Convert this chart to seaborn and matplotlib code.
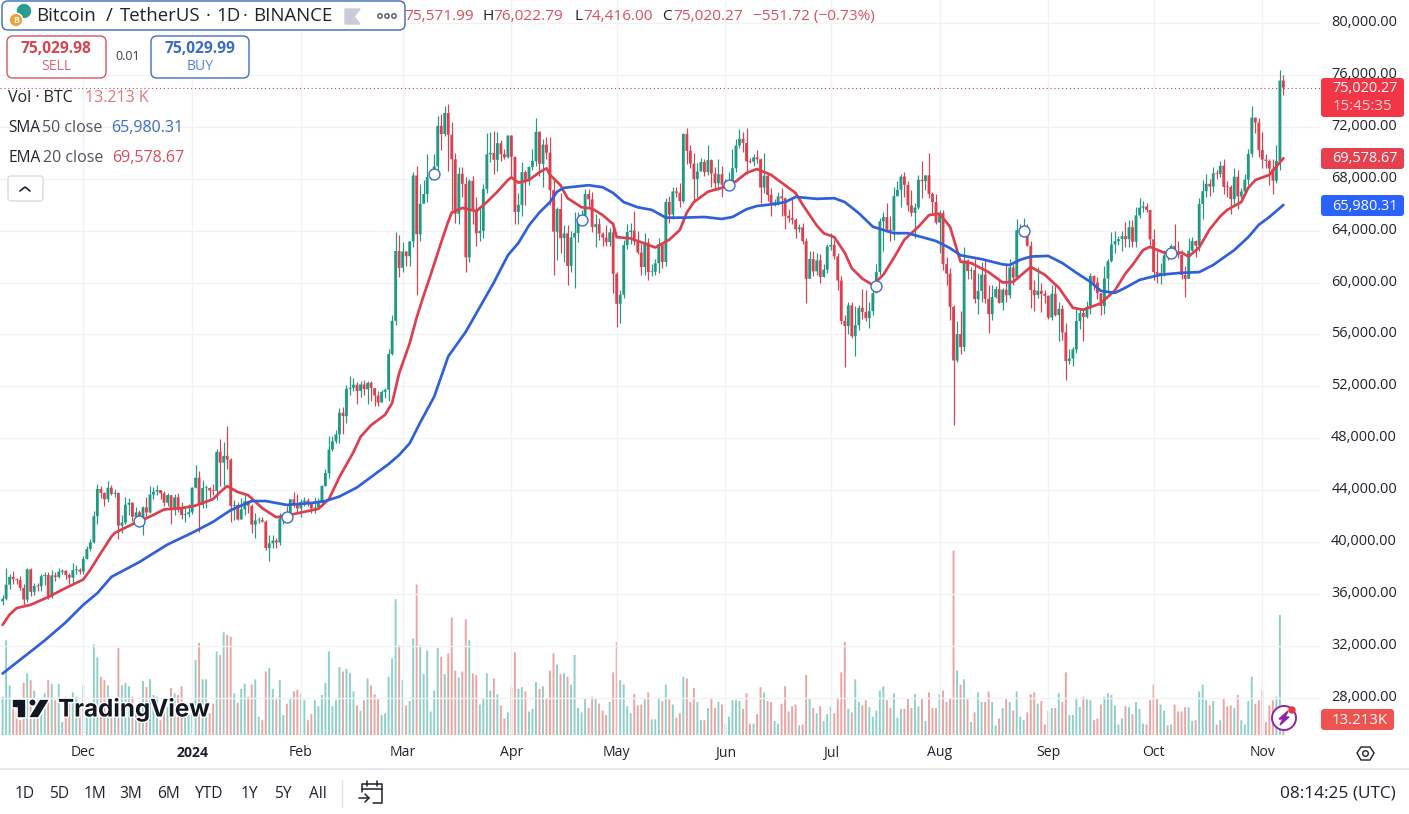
import numpy as np
import pandas as pd
import matplotlib
matplotlib.use("Agg")
import matplotlib.pyplot as plt
import matplotlib.dates as mdates
import matplotlib.patheffects as pe
from matplotlib.patches import FancyBboxPatch, Circle, Polygon
import seaborn as sns

# ── daily candles, thousands of USDT ────────────────────────────────────────
first_open = 35.42
closes_nov23 = [35.62, 36.70, 37.30, 37.13, 37.06, 36.46, 35.55, 37.88, 36.15, 36.60, 36.57, 37.36, 37.45, 35.74, 37.42, 37.29, 37.70, 37.78, 37.45, 37.24, 37.82, 37.85, 37.72]
highs_nov23 = [35.9, 37.97, 37.53, 37.75, 37.23, 37.4, 36.75, 37.98, 37.98, 36.85, 36.85, 37.5, 37.65, 37.65, 37.85, 37.65, 38.0, 37.9, 37.8, 37.6, 38.4, 38.2, 38.0]
lows_nov23 = [35.1, 35.55, 36.35, 36.75, 36.75, 36.3, 35.1, 35.35, 35.85, 35.9, 36.2, 36.2, 36.7, 35.6, 35.65, 37.0, 37.2, 37.55, 37.15, 36.75, 36.7, 37.5, 37.5]

closes_dec = [38.68, 39.46, 39.97, 41.98, 44.08, 43.77, 43.29, 44.17, 43.71, 43.79, 41.25, 41.49, 42.87, 43.02, 41.94, 42.28, 41.37, 42.66, 42.27, 43.65, 43.87, 44.00, 43.74, 43.02, 43.61, 42.52, 43.44, 42.58, 42.07, 42.14, 42.28]
highs_dec = [38.95, 39.7, 40.2, 42.4, 44.5, 44.3, 43.85, 44.7, 44.4, 44.05, 43.8, 42.1, 43.45, 43.4, 43.1, 42.7, 42.45, 42.75, 43.5, 44.3, 44.2, 44.4, 44.0, 43.95, 43.8, 43.6, 43.7, 43.8, 43.1, 42.6, 42.9]
lows_dec = [37.5, 38.65, 39.3, 39.95, 41.4, 43.35, 42.8, 43.1, 43.6, 43.5, 40.2, 40.7, 41.4, 42.1, 41.6, 41.7, 41.3, 40.5, 41.8, 42.2, 43.3, 43.6, 43.3, 42.75, 42.8, 41.4, 42.1, 42.3, 41.75, 41.5, 41.9]

closes_jan = [44.18, 44.95, 42.85, 44.15, 44.15, 43.97, 43.93, 46.95, 46.11, 46.63, 46.34, 42.78, 42.85, 41.73, 42.51, 43.14, 42.78, 41.33, 41.66, 41.68, 41.56, 39.53, 39.89, 40.10, 39.96, 41.82, 42.12, 42.04, 43.29, 42.95, 42.58]
highs_jan = [44.2, 45.9, 45.5, 44.75, 44.4, 44.2, 44.5, 47.2, 47.9, 47.7, 48.95, 46.5, 43.25, 43.1, 43.4, 43.6, 43.2, 42.9, 42.2, 41.9, 41.9, 41.7, 40.5, 40.55, 40.3, 42.2, 42.2, 42.8, 43.3, 43.85, 43.7]
lows_jan = [42.15, 44.15, 40.75, 42.6, 42.6, 43.4, 43.6, 43.2, 44.3, 44.3, 45.6, 41.5, 41.7, 41.7, 41.8, 42.05, 42.2, 40.7, 40.3, 41.45, 41.5, 39.4, 38.55, 39.5, 39.5, 39.8, 41.4, 41.6, 41.8, 42.7, 42.3]

closes_feb = [43.08, 43.19, 42.99, 42.58, 42.66, 43.08, 44.32, 45.30, 47.13, 47.75, 48.29, 49.96, 49.70, 51.80, 51.88, 52.12, 51.64, 52.14, 51.77, 52.26, 51.85, 51.29, 50.74, 51.57, 51.73, 54.48, 57.04, 62.43, 61.13]
highs_feb = [43.3, 43.45, 43.4, 43.1, 43.5, 43.4, 44.4, 45.6, 48.2, 48.2, 48.6, 50.3, 50.4, 52.1, 52.8, 52.6, 52.3, 52.4, 52.5, 52.4, 52.4, 51.9, 51.6, 51.7, 51.9, 54.9, 57.5, 63.9, 63.7]
lows_feb = [41.9, 42.8, 42.8, 42.25, 42.2, 42.6, 42.8, 44.3, 44.9, 47.0, 47.6, 47.6, 48.3, 49.2, 51.3, 51.6, 50.6, 51.2, 51.3, 50.6, 50.9, 50.5, 50.5, 50.9, 51.1, 50.9, 54.4, 56.7, 60.4]

closes_mar = [62.39, 62.03, 63.17, 68.25, 63.72, 66.07, 66.82, 68.12, 68.31, 68.96, 72.08, 71.45, 73.07, 71.39, 69.50, 65.30, 68.39, 67.61, 61.94, 67.84, 65.50, 63.80, 63.99, 67.21, 69.88, 69.99, 69.46, 70.74, 69.89, 69.65, 71.33]
highs_mar = [63.1, 62.4, 63.2, 68.5, 69.0, 67.6, 67.9, 69.9, 68.7, 69.9, 72.8, 73.0, 73.6, 73.8, 72.4, 70.0, 68.9, 68.9, 68.1, 68.0, 68.2, 66.6, 65.9, 67.6, 71.5, 71.6, 71.7, 71.6, 71.0, 70.3, 71.4]
lows_mar = [60.8, 61.3, 61.3, 62.7, 59.0, 63.2, 66.2, 66.2, 67.9, 68.1, 68.5, 70.2, 71.3, 68.6, 65.6, 64.6, 64.5, 66.6, 60.8, 61.6, 64.5, 62.8, 63.2, 63.4, 66.9, 69.3, 68.4, 68.6, 69.4, 69.5, 69.6]

closes_apr = [69.70, 65.45, 65.98, 68.51, 67.84, 68.90, 69.36, 71.62, 69.15, 70.63, 70.01, 67.12, 63.92, 65.66, 63.42, 63.79, 61.28, 63.47, 63.82, 64.94, 64.94, 66.82, 66.41, 64.29, 64.50, 63.77, 63.46, 63.12, 63.87, 60.67]
highs_apr = [71.4, 69.7, 66.9, 69.3, 68.7, 69.0, 70.3, 72.7, 71.7, 71.1, 71.2, 71.2, 67.9, 65.8, 66.9, 64.4, 64.4, 64.0, 65.4, 65.4, 65.6, 67.2, 67.2, 67.0, 65.3, 65.0, 63.9, 64.4, 64.2, 64.7]
lows_apr = [68.1, 64.5, 64.5, 65.1, 66.0, 67.5, 68.7, 69.0, 68.2, 67.4, 69.5, 66.0, 60.6, 61.7, 62.3, 61.6, 59.8, 60.8, 59.6, 63.1, 64.5, 64.5, 65.8, 63.9, 62.7, 63.3, 62.8, 62.8, 62.8, 59.2]

closes_may = [58.36, 59.06, 62.88, 63.89, 64.01, 63.17, 62.31, 61.19, 63.07, 60.80, 60.83, 61.48, 62.94, 61.58, 66.21, 65.24, 67.02, 66.92, 66.27, 71.45, 70.15, 69.17, 67.97, 68.55, 69.29, 68.51, 69.44, 68.40, 67.65, 68.35, 67.54]
highs_may = [60.8, 59.4, 63.3, 64.5, 64.6, 65.5, 64.0, 63.0, 63.8, 63.4, 61.4, 61.8, 63.4, 63.1, 66.5, 66.7, 67.4, 67.4, 67.7, 71.5, 71.9, 70.6, 70.0, 69.2, 69.6, 69.5, 70.6, 69.5, 68.9, 69.5, 69.0]
lows_may = [56.6, 56.9, 58.8, 62.6, 63.0, 62.9, 62.2, 60.6, 60.6, 60.2, 60.5, 60.6, 60.7, 61.1, 61.3, 64.6, 64.9, 66.6, 65.8, 66.1, 69.1, 68.8, 66.3, 66.6, 68.9, 68.2, 68.3, 67.4, 67.1, 67.1, 66.6]

closes_jun = [67.77, 67.77, 68.81, 70.57, 71.08, 70.76, 69.34, 69.31, 69.65, 69.50, 67.32, 68.24, 66.75, 66.01, 66.19, 66.64, 66.49, 65.14, 64.96, 64.83, 64.10, 64.25, 63.18, 60.28, 61.81, 60.86, 61.71, 60.43, 60.99, 62.77]
highs_jun = [68.0, 68.5, 70.3, 71.1, 71.8, 71.6, 71.9, 69.6, 69.9, 70.2, 69.6, 70.0, 68.4, 67.3, 66.4, 67.0, 67.3, 66.6, 65.7, 66.5, 65.0, 64.5, 64.6, 63.4, 62.4, 62.4, 62.3, 62.2, 61.4, 63.0]
lows_jun = [67.4, 67.4, 67.6, 68.5, 70.4, 70.1, 68.4, 69.2, 69.0, 69.2, 66.1, 66.9, 66.3, 65.1, 65.9, 66.0, 65.1, 64.1, 64.7, 64.5, 63.4, 63.9, 63.0, 58.4, 60.6, 60.5, 60.6, 60.0, 60.4, 60.7]

closes_jul = [62.90, 62.02, 60.15, 57.04, 56.64, 58.23, 55.86, 56.71, 58.05, 57.72, 57.25, 57.79, 59.18, 60.80, 64.72, 65.04, 64.09, 63.99, 66.66, 67.14, 68.17, 67.53, 65.94, 65.37, 65.78, 67.91, 67.81, 68.26, 66.82, 66.20, 64.62]
highs_jul = [63.8, 63.3, 62.3, 60.5, 57.5, 58.5, 58.5, 58.2, 58.3, 59.5, 59.4, 58.5, 59.8, 61.4, 65.0, 65.4, 66.1, 65.1, 67.4, 67.8, 68.4, 68.5, 67.8, 67.1, 66.1, 68.3, 69.4, 68.3, 70.0, 67.0, 66.8]
lows_jul = [62.5, 61.8, 59.4, 56.8, 53.5, 56.0, 55.7, 54.3, 56.3, 57.2, 57.0, 56.5, 57.5, 59.5, 60.6, 62.4, 63.9, 63.2, 63.3, 66.7, 65.8, 66.6, 65.5, 65.1, 63.4, 65.7, 66.5, 67.1, 66.5, 65.3, 64.5]

closes_aug = [65.36, 61.42, 60.68, 58.12, 53.99, 56.03, 55.03, 61.71, 60.88, 60.95, 58.72, 59.35, 60.61, 58.74, 57.56, 58.87, 59.49, 58.43, 59.44, 59.01, 61.16, 60.38, 64.04, 64.16, 64.22, 62.83, 59.42, 59.03, 59.36, 59.12, 58.97]
highs_aug = [65.6, 65.6, 62.0, 61.1, 58.3, 57.0, 57.8, 62.7, 61.8, 61.2, 61.8, 60.7, 61.6, 61.8, 59.8, 59.8, 59.7, 60.3, 59.6, 61.4, 61.8, 61.4, 64.9, 64.5, 65.0, 64.5, 63.2, 60.2, 61.2, 60.0, 59.4]
lows_aug = [62.3, 61.0, 59.8, 57.1, 49.0, 53.9, 54.5, 54.7, 60.3, 60.3, 58.4, 57.6, 58.5, 58.4, 56.1, 57.1, 58.8, 58.4, 57.9, 58.5, 58.8, 59.8, 60.3, 63.6, 63.6, 62.8, 58.0, 57.8, 58.8, 57.7, 58.4]

closes_sep = [57.30, 59.13, 57.49, 57.97, 56.16, 53.95, 54.14, 54.84, 57.02, 57.65, 57.34, 58.13, 60.50, 60.00, 59.18, 58.19, 60.31, 61.65, 62.94, 63.19, 63.35, 63.58, 63.34, 64.26, 63.14, 65.17, 65.77, 65.86, 65.60, 63.33]
highs_sep = [59.0, 59.8, 59.8, 58.5, 58.3, 56.9, 54.9, 55.0, 58.1, 58.0, 58.0, 58.6, 60.7, 60.6, 60.4, 59.2, 61.3, 61.8, 63.9, 64.0, 63.6, 64.0, 64.7, 64.8, 64.8, 65.8, 66.5, 66.3, 66.1, 65.6]
lows_sep = [57.2, 57.1, 57.4, 55.5, 55.6, 52.5, 53.7, 53.6, 54.6, 56.4, 55.5, 57.3, 57.6, 59.4, 58.7, 57.5, 57.6, 59.2, 61.6, 62.3, 62.9, 62.4, 62.7, 62.7, 62.7, 62.7, 65.0, 65.4, 65.4, 62.9]

closes_oct = [60.81, 60.65, 60.75, 62.09, 62.06, 62.82, 62.22, 62.13, 60.58, 60.28, 62.45, 63.19, 62.85, 66.05, 67.04, 67.61, 67.40, 68.42, 68.36, 69.00, 67.37, 67.36, 66.43, 68.16, 66.64, 67.01, 67.93, 69.91, 72.72, 72.34, 70.22]
highs_oct = [64.1, 62.4, 61.5, 62.5, 62.4, 63.0, 64.5, 63.2, 62.5, 61.3, 63.4, 63.5, 63.3, 66.5, 67.9, 68.4, 68.0, 68.9, 68.7, 69.4, 69.5, 67.8, 67.5, 68.8, 68.7, 67.3, 68.4, 70.3, 73.6, 72.7, 72.7]
lows_oct = [60.2, 60.0, 59.9, 60.5, 61.7, 61.9, 62.1, 61.9, 60.3, 58.9, 60.4, 62.4, 62.0, 62.4, 64.9, 66.6, 66.7, 67.0, 68.0, 68.1, 66.8, 66.6, 65.3, 65.9, 65.7, 66.5, 66.8, 67.5, 69.7, 71.5, 69.7]

closes_nov24 = [69.48, 69.37, 68.78, 67.85, 69.37, 75.57, 75.02]
highs_nov24 = [71.6, 69.9, 69.5, 69.5, 70.6, 76.4, 76.02]
lows_nov24 = [68.8, 68.8, 67.5, 66.8, 67.7, 68.7, 74.42]

# volume, thousands of BTC
vol_nov_to_mar = [44, 109, 57, 38, 28, 17, 60, 71, 63, 51, 40, 36, 48, 63, 59, 40, 59, 15, 44, 40, 49, 44, 32,
    57, 21, 32, 104, 89, 67, 63, 57, 36, 32, 100, 57, 60, 56, 44, 32, 25, 62, 55, 64, 46, 44, 17, 36, 32, 54, 48, 46, 56, 32, 25,
    28, 86, 106, 64, 64, 25, 36, 96, 92, 118, 115, 113, 48, 37, 53, 59, 44, 58, 64, 21, 17, 73, 77, 53, 41, 63, 23, 36, 43, 50, 52,
    47, 40, 17, 24, 40, 33, 46, 60, 96, 33, 40, 78, 73, 76, 71, 50, 34, 28, 40, 65, 57, 47, 41, 23, 25, 67, 88, 156, 103, 63, 34, 39,
    111, 173, 103, 70, 97, 27, 51, 100, 90, 70, 94, 135, 74, 66, 73, 133, 109]
vol_mar_to_aug = [71, 69, 35, 42, 71, 51, 65, 47, 34, 19, 26, 55, 95, 53, 55, 50, 27, 30, 61, 53, 56, 42, 74, 94, 81, 70, 71, 67, 58, 92,
    31, 26, 42, 31, 44, 42, 36, 28, 23, 38, 72, 107, 63, 58, 33, 25, 47, 34, 35, 41, 49, 18, 18, 43, 39, 58, 41, 35, 20, 25, 67, 65,
    38, 54, 38, 17, 17, 31, 43, 31, 38, 35, 12, 21, 40, 40, 39, 30, 48, 13, 13, 24, 55, 49, 39, 38, 16, 13, 36, 56, 27, 33, 35, 11,
    12, 69, 42, 31, 25, 33, 16, 24, 33, 25, 43, 72, 107, 30, 26, 64, 38, 34, 40, 32, 21, 28, 51, 56, 40, 31, 48, 20, 30, 30, 42, 31,
    47, 33, 42, 16, 49, 31, 31, 47]
vol_aug_to_nov = [51, 38, 42, 212, 74, 58, 64, 41, 15, 26, 49, 38, 38, 50, 38, 11, 19, 31, 42, 38, 28, 50, 21, 17, 26, 47, 49, 36, 39, 12,
    28, 31, 31, 48, 38, 72, 23, 23, 43, 32, 44, 41, 40, 17, 19, 35, 44, 48, 46, 34, 12, 19, 33, 32, 24, 38, 30, 13, 12, 40, 58, 42,
    35, 28, 11, 12, 35, 27, 27, 32, 32, 16, 17, 50, 58, 40, 34, 39, 12, 17, 42, 33, 34, 31, 46, 17, 12, 39, 67, 36, 40, 51, 15, 34,
    40, 44, 138, 13.213]

# moving averages at candle numbers
sma_idx = [0, 12, 18, 23, 27, 31, 39, 47, 54, 60, 65, 68, 71, 75, 81, 88, 92, 96, 101, 105, 110, 113, 116, 119, 123, 127, 132, 136, 140, 144, 147, 150, 153, 156, 158, 160, 167, 171, 174, 177, 181, 185, 189, 194, 200, 205, 208, 212, 215, 220, 223, 226, 232, 237, 240, 244, 248, 254, 258, 262, 266, 270, 273, 279, 285, 287, 290, 293, 298, 302, 306, 310, 313, 317, 320, 324, 330, 336, 341, 345, 351, 355, 358, 361, 365]
sma_val = [29.85, 32.4, 33.8, 35.15, 36.05, 37.3, 38.45, 39.8, 40.7, 41.55, 42.45, 42.8, 43.15, 43.15, 42.85, 43.0, 43.15, 43.5, 44.2, 45.0, 46.0, 46.7, 47.6, 49.2, 51.2, 54.3, 56.2, 58.1, 60.0, 62.1, 63.05, 64.4, 65.4, 66.2, 67.0, 67.3, 67.5, 67.35, 66.9, 66.2, 65.8, 65.6, 65.0, 65.0, 65.05, 64.9, 65.05, 65.65, 65.9, 66.05, 66.2, 66.6, 66.45, 66.5, 66.2, 65.35, 64.3, 63.8, 63.8, 63.5, 63.2, 62.65, 62.1, 61.8, 61.4, 61.35, 61.75, 62.0, 62.05, 61.5, 60.75, 60.05, 59.35, 59.2, 59.6, 60.2, 60.6, 60.75, 60.8, 61.35, 62.5, 63.5, 64.45, 65.05, 65.98]
ema_idx = [0, 2, 4, 8, 13, 18, 23, 25, 28, 31, 32, 38, 42, 46, 51, 55, 60, 62, 64, 67, 70, 74, 78, 83, 90, 93, 96, 100, 102, 105, 109, 111, 113, 116, 118, 120, 122, 125, 127, 128, 131, 135, 138, 141, 144, 145, 147, 150, 153, 155, 156, 159, 161, 165, 168, 171, 174, 175, 179, 182, 186, 190, 193, 195, 197, 201, 205, 209, 212, 215, 219, 222, 226, 228, 232, 234, 237, 240, 242, 245, 248, 251, 254, 257, 261, 264, 267, 270, 273, 276, 281, 285, 288, 293, 297, 301, 305, 308, 313, 317, 320, 322, 325, 327, 331, 336, 338, 341, 344, 347, 349, 353, 355, 357, 361, 365]
ema_val = [33.6, 34.4, 34.9, 35.15, 35.75, 36.45, 37.1, 37.85, 39.15, 40.4, 40.7, 41.5, 41.95, 42.5, 42.6, 42.8, 43.3, 43.85, 44.3, 43.85, 43.6, 42.6, 41.9, 42.15, 42.55, 43.3, 45.0, 46.93, 48.1, 49.0, 49.8, 50.7, 53.0, 55.3, 57.3, 59.0, 60.6, 63.1, 64.7, 65.4, 65.75, 65.5, 66.2, 67.0, 67.9, 68.1, 67.7, 67.9, 68.5, 68.8, 68.3, 67.5, 66.5, 65.8, 65.7, 65.2, 64.5, 63.5, 63.4, 63.1, 62.7, 63.3, 64.05, 65.4, 66.2, 67.0, 67.3, 67.8, 68.45, 68.75, 68.3, 67.7, 66.9, 66.0, 64.4, 63.8, 63.5, 62.3, 61.1, 60.3, 59.8, 60.6, 61.9, 63.3, 64.3, 65.2, 65.3, 64.3, 61.6, 61.5, 60.8, 60.0, 60.05, 61.2, 60.6, 59.6, 58.05, 57.9, 58.4, 59.4, 60.7, 61.35, 62.5, 62.75, 62.3, 62.3, 62.0, 62.7, 64.1, 65.1, 65.6, 66.2, 67.3, 67.9, 68.3, 69.58]
assert len(sma_idx) == len(sma_val), (len(sma_idx), len(sma_val))
assert len(ema_idx) == len(ema_val), (len(ema_idx), len(ema_val))

# event markers on the candles
event_idx = [39, 81, 123, 165, 207, 249, 291, 333]
event_val = [41.65, 41.95, 68.40, 64.80, 67.55, 59.75, 64.00, 62.25]

price_ticks = [28, 32, 36, 40, 44, 48, 52, 56, 60, 64, 68, 72, 76, 80]
month_labels = ["Dec", "2024", "Feb", "Mar", "Apr", "May", "Jun", "Jul", "Aug", "Sep", "Oct", "Nov"]
month_starts = ["2023-12-01", "2024-01-01", "2024-02-01", "2024-03-01", "2024-04-01", "2024-05-01", "2024-06-01", "2024-07-01", "2024-08-01", "2024-09-01", "2024-10-01", "2024-11-01"]
range_labels = ["1D", "5D", "1M", "3M", "6M", "YTD", "1Y", "5Y", "All"]

closes = closes_nov23 + closes_dec + closes_jan + closes_feb + closes_mar + closes_apr + closes_may + closes_jun + closes_jul + closes_aug + closes_sep + closes_oct + closes_nov24
highs = highs_nov23 + highs_dec + highs_jan + highs_feb + highs_mar + highs_apr + highs_may + highs_jun + highs_jul + highs_aug + highs_sep + highs_oct + highs_nov24
lows = lows_nov23 + lows_dec + lows_jan + lows_feb + lows_mar + lows_apr + lows_may + lows_jun + lows_jul + lows_aug + lows_sep + lows_oct + lows_nov24
volumes = vol_nov_to_mar + vol_mar_to_aug + vol_aug_to_nov

opens = [first_open] + closes[:-1]   # 24h market, each day opens on the last close
days = mdates.date2num(pd.date_range("2023-11-08", periods=len(closes)))

df = pd.DataFrame({"day": days, "open": opens, "high": highs, "low": lows, "close": closes, "vol": volumes})
df["up"] = df["close"] >= df["open"]

TEAL = "#1f9a82"
RED = "#dc3f4e"
BLUE = "#2f5fd9"
DARK = "#1e222d"
GRID = "#f1f2f5"

sns.set_theme(style="white")
plt.rcParams["font.family"] = ["Open Sans", "DejaVu Sans"]

W, H = 1409, 814
fig = plt.figure(figsize=(W / 100, H / 100), dpi=100, facecolor="white")
ax = fig.add_axes([0, (H - 735) / H, 1320 / W, 735 / H])
vax = ax.twinx()
ax.set_zorder(2)
ax.patch.set_visible(False)
vax.set_zorder(1)

# volume underneath
vol_colors = np.where(df["up"], "#8fcfc9", "#e9a5a2")
for bar in vax.bar(df["day"], df["vol"], width=0.55, color=vol_colors, linewidth=0):
    bar.set_snap(False)
vax.set_ylim(0, 735 / 0.87)
vax.axis("off")

for d in mdates.date2num(pd.to_datetime(month_starts)):
    ax.axvline(d, color=GRID, lw=1, zorder=0)
for p in price_ticks:
    ax.axhline(p, color=GRID, lw=1, zorder=0)

colors = np.where(df["up"], TEAL, RED)
ax.vlines(df["day"], df["low"], df["high"], colors=colors, lw=0.85, zorder=2)
bodies = ax.bar(df["day"], (df["close"] - df["open"]).abs().clip(lower=0.06), bottom=df[["open", "close"]].min(axis=1),
                width=0.8, color=colors, linewidth=0, zorder=3)
for bar in bodies:
    bar.set_snap(False)

sns.lineplot(x=days[ema_idx], y=ema_val, ax=ax, color=RED, linewidth=1.95, estimator=None, sort=False, zorder=4,
             solid_joinstyle="round")
sns.lineplot(x=days[sma_idx], y=sma_val, ax=ax, color=BLUE, linewidth=1.95, estimator=None, sort=False, zorder=5,
             solid_joinstyle="round")
ax.scatter(days[event_idx], event_val, s=62, facecolor="white", edgecolor="#3f6cc4", linewidth=1, zorder=6)
ax.axhline(closes[-1], color="#b5485a", lw=0.8, ls=(0, (1, 2.5)), zorder=1)

ax.set_xlim(days[0] - 0.74, days[0] + (1320 - 2.6) / 3.509)
ax.set_ylim(80 - (735 - 23.1) * 0.0771, 80 + 23.1 * 0.0771)
ax.set_xticks([])
ax.set_yticks([])
for s in ax.spines.values():
    s.set_visible(False)

# ── everything around the plot, placed in pixels ────────────────────────────
ov = fig.add_axes([0, 0, 1, 1], zorder=10)
ov.set_xlim(0, W)
ov.set_ylim(H, 0)
ov.axis("off")


def label(x, y, s, size=14.5, color=DARK, ha="left", weight="normal", **kw):
    return ov.text(x, y + 1, s, fontsize=size * 0.72, color=color, ha=ha, va="center", fontweight=weight, **kw)


def box(x0, y0, x1, y1, edge, face="white", rad=5, lw=1.0):
    ov.add_patch(FancyBboxPatch((x0 + rad, y0 + rad), x1 - x0 - 2 * rad, y1 - y0 - 2 * rad,
                                boxstyle=f"round,pad={rad},rounding_size={rad}", ec=edge, fc=face, lw=lw, mutation_aspect=1))


# price scale
for p in price_ticks:
    y = 23.1 + (80 - p) * 12.97
    label(1397, y - 1.5, f"{p * 1000:,.2f}", ha="right")
box(1321, 78, 1404, 117, "#f23645", "#f23645", rad=3, lw=0)
label(1332, 87, "75,020.27", color="white")
label(1333, 105, "15:45:35", color="#ffd0d5", size=15)
box(1321, 148, 1404, 169, "#e6404f", "#e6404f", rad=3, lw=0)
label(1332, 157, "69,578.67", color="white")
box(1321, 195, 1404, 216, "#2962ff", "#2962ff", rad=3, lw=0)
label(1332, 205, "65,980.31", color="white")
box(1321, 709, 1394, 730, "#ef5350", "#ef5350", rad=3, lw=0)
label(1332, 719, "13.213K", color="white", size=15)

# header
box(2, 1, 405, 30, "#4a76b8", rad=6, lw=1.1)
ov.add_patch(Circle((24, 11), 6.5, color="#2a9d8f"))
ov.add_patch(Circle((16, 20), 6.8, color="#f0a030", ec="white", lw=1))
label(16, 19.5, "B", size=9, color="white", ha="center", weight="bold")
for x, s in [(36, "Bitcoin"), (106, "/"), (120, "TetherUS"), (206, "·"), (216, "1D"), (243, "·"), (253, "BINANCE")]:
    label(x, 15, s, size=18.6)
ov.add_patch(Polygon([(345, 9), (360, 9), (354, 16.5), (360, 24), (345, 24)], color="#c9ccd6"))
for cx in (380, 387, 394):
    ov.add_patch(Circle((cx, 16), 2.2, fc="white", ec="#50535e", lw=1))
for x, s, c in [(404, "75,571.99", "#d9505c"), (482, "H", DARK), (493, "76,022.79", "#d9505c"), (574, "L", DARK), (583, "74,416.00", "#d9505c"),
                (662, "C", DARK), (673, "75,020.27", "#d9505c"), (753, "−551.72 (−0.73%)", "#d9505c")]:
    label(x, 15.5, s, color=c, size=15.4)

# sell / buy
box(7, 36, 106, 78, "#d9535f", rad=6)
label(56, 48, "75,029.98", color="#d9434f", ha="center", weight="bold", size=15.5)
label(56, 65, "SELL", color="#e0656f", ha="center", size=14)
label(128, 56, "0.01", ha="center", size=12.5, color="#3a3e4a")
box(151, 36, 249, 78, "#3f6fc0", rad=6)
label(200, 48, "75,029.99", color="#3a6bc9", ha="center", weight="bold", size=15.5)
label(200, 65, "BUY", color="#5580d0", ha="center", size=14)

# indicator legend
label(8, 97, "Vol · BTC", size=16)
label(85, 97, "13.213 K", color="#e57373", size=16)
label(8, 127, "SMA", size=15.5)
label(42, 127, "50 close", color="#50535e", size=16)
label(111, 127, "65,980.31", color="#3a6bc9", size=16)
label(8, 157, "EMA", size=15.5)
label(43, 157, "20 close", color="#50535e", size=16)
label(112, 157, "69,578.67", color="#dc4a58", size=16)
box(8, 176, 43, 201, "#d8dae2", rad=3)
ov.plot([20, 25, 30], [191, 187, 191], color=DARK, lw=1.2)

# time axis
for s, m in zip(month_labels, mdates.date2num(pd.to_datetime(month_starts))):
    frac = (m - ax.get_xlim()[0]) / (ax.get_xlim()[1] - ax.get_xlim()[0])
    label(frac * 1320, 752, s, ha="center", weight="bold" if s == "2024" else "normal", size=14)
ov.plot([0, W], [769, 769], color="#e0e3eb", lw=1.2)

# watermark
logo = dict(color="#131722", ec="white", lw=1.2)
ov.add_patch(Polygon([(12, 699), (26, 699), (26, 718), (17, 718), (17, 708), (12, 708)], **logo))
ov.add_patch(Circle((32.5, 702.5), 3.8, **logo))
ov.add_patch(Polygon([(39.5, 699), (50, 699), (38.5, 718), (28, 718)], **logo))
t = label(58, 708, "TradingView", size=24.2, color="#131722", weight="bold", family=["Inter", "DejaVu Sans"])
t.set_path_effects([pe.withStroke(linewidth=2, foreground="white")])

# bolt button
ov.add_patch(Circle((1284, 718), 12, fc="white", ec="#8e24aa", lw=1.4))
ov.add_patch(Polygon([(1288, 711), (1279, 719), (1283, 719), (1280, 725), (1289, 717), (1285, 717)], color="#8e24aa"))
ov.add_patch(Circle((1292, 710), 3, color="#e53935"))

# settings icon
ov.add_patch(Polygon([(1357, 753), (1361, 747), (1370, 747), (1374, 753), (1370, 760), (1361, 760)], fc="none", ec=DARK, lw=1))
ov.add_patch(Circle((1365.5, 753.5), 2.8, fc="none", ec=DARK, lw=1))

# bottom toolbar
for s, x in zip(range_labels, [25, 59, 95, 131, 168, 209, 249, 283, 318]):
    label(x, 793, s, ha="center", size=15.5)
ov.plot([342, 342], [780, 807], color="#e0e3eb", lw=1)
ov.plot([362, 362, 382, 382, 373], [792, 784, 784, 803, 803], color=DARK, lw=1.1)
ov.plot([362, 382], [789, 789], color=DARK, lw=1.1)
ov.plot([367, 367], [781, 786], color=DARK, lw=1.1)
ov.plot([377, 377], [781, 786], color=DARK, lw=1.1)
ov.plot([359, 369], [798, 798], color=DARK, lw=1.1)
ov.plot([365, 369, 365], [794, 798, 802], color=DARK, lw=1.1)
label(1396, 793, "08:14:25 (UTC)", ha="right", size=17.2)

fig.savefig("out.png", dpi=100, facecolor="white")
